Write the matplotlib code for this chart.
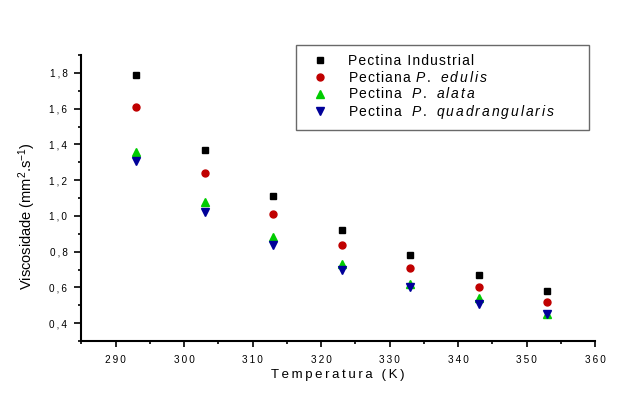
import numpy as np
import matplotlib.pyplot as plt
from matplotlib.ticker import MultipleLocator, FuncFormatter

## Viscosidade vs temperatura para as pectinas ##

temp = [293, 303, 313, 323, 333, 343, 353]	# Temperatura (K)

industrial = [1.79, 1.37, 1.11, 0.92, 0.78, 0.67, 0.58]
edulis = [1.61, 1.24, 1.01, 0.84, 0.71, 0.60, 0.52]
alata = [1.36, 1.08, 0.88, 0.73, 0.62, 0.54, 0.45]
quadrangularis = [1.31, 1.02, 0.84, 0.70, 0.60, 0.51, 0.45]

HS = '\u200a'	# hair space
TS = '\u2009'	# thin space

def spaced(s, sep=HS):	# texto normal com letras espaçadas
    return sep.join(s)

def spaced_it(s):	# texto em itálico (mathtext) com letras espaçadas
    return '$\\it{' + '\\,'.join(c if c != ' ' else '\\ ' for c in s) + '}$'

labels = [spaced('Pectina Industrial'),
          spaced('Pectiana ') + spaced_it('P. edulis'),
          spaced('Pectina  ') + spaced_it('P. alata'),
          spaced('Pectina  ') + spaced_it('P. quadrangularis')]

plt.rcParams['font.family'] = ['Liberation Sans', 'DejaVu Sans']
plt.rcParams['mathtext.fontset'] = 'custom'
plt.rcParams['mathtext.it'] = 'Liberation Sans:italic'
plt.rcParams['mathtext.rm'] = 'Liberation Sans'

fig = plt.figure(figsize=(6.4, 3.93), dpi=100)
ax = fig.add_axes([0.127, 0.132, 0.803, 0.728])

ax.plot(temp, industrial, 's', color='black', ms=4.5, label=labels[0])
ax.plot(temp, edulis, 'o', color='#c00000', ms=5, label=labels[1])
ax.plot(temp, alata, '^', color='#00cc00', ms=5.5, label=labels[2])
ax.plot(temp, quadrangularis, 'v', color='#000099', ms=5.5, label=labels[3])

ax.set_xlim(285, 360)
ax.set_ylim(0.3, 1.9)
ax.xaxis.set_major_locator(MultipleLocator(10))
ax.xaxis.set_minor_locator(MultipleLocator(5))
ax.yaxis.set_major_locator(MultipleLocator(0.2))
ax.yaxis.set_minor_locator(MultipleLocator(0.1))
ax.xaxis.set_major_formatter(FuncFormatter(lambda v, p: spaced('%d' % v, TS)))
ax.yaxis.set_major_formatter(FuncFormatter(lambda v, p: spaced(('%.1f' % v).replace('.', ','), TS)))

ax.spines['top'].set_visible(False)
ax.spines['right'].set_visible(False)
ax.spines['left'].set_linewidth(1.5)
ax.spines['bottom'].set_linewidth(1.5)
ax.tick_params(which='major', direction='out', length=4, width=1.2, labelsize=7.2)
ax.tick_params(which='minor', direction='out', length=2.5, width=1.2)
ax.tick_params(axis='x', pad=6)
ax.tick_params(axis='y', which='major', length=5, pad=5)

ax.set_xlabel(spaced('Temperatura (K)', TS), fontsize=9.5)
ax.xaxis.set_label_coords(0.5, -0.098)
ax.set_ylabel('Viscosidade (mm$^2$.s$^{-1}$)', fontsize=10.5)
ax.yaxis.set_label_coords(-0.084, 0.437)

leg = ax.legend(loc='upper left', bbox_to_anchor=(0.418, 0.762, 0.57, 0.273),
                mode='expand', fontsize=10,
                frameon=True, fancybox=False, edgecolor='#444444',
                handlelength=2.1, handletextpad=1.0, borderpad=0.65,
                labelspacing=0.12, borderaxespad=0)
leg.get_frame().set_linewidth(1.0)

plt.savefig('out.png', dpi=100)
